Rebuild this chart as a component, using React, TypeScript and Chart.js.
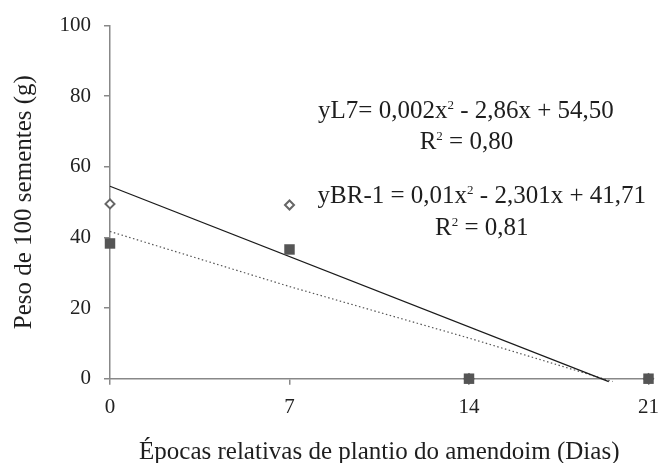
import React, { useEffect, useRef } from "react";
import { Chart, registerables } from "chart.js";

Chart.register(...registerables);

// Observed data
const daysL7 = [0, 7, 14, 21];
const weightL7 = [49.5, 49.2, 0, 0];
const daysBR1 = [0, 7, 14, 21];
const weightBR1 = [38.3, 36.6, 0, 0];

// Trend lines
const trendL7X = [0, 19.45];
const trendL7Y = [54.5, -0.8];
const trendBR1X = [0, 7, 14, 19.6];
const trendBR1Y = [41.7, 26.1, 11.5, -0.8];

// Tick values
const xTicks = [0, 7, 14, 21];
const yTicks = [0, 20, 40, 60, 80, 100];

// Equation annotations ("^" marks a superscript 2)
const eqTexts = [
  "yL7= 0,002x^ - 2,86x + 54,50",
  "R^ = 0,80",
  "yBR-1 = 0,01x^ - 2,301x + 41,71",
  "R^ = 0,81",
];
const eqX = [13.88, 13.9, 14.5, 14.5];
const eqY = [76.0, 67.3, 51.9, 43.0];

const xTitle = "Épocas relativas de plantio do amendoim (Dias)";
const yTitle = "Peso de 100 sementes (g)";

const FONT = '"Liberation Serif", "Times New Roman", serif';

const annotationPlugin = {
  id: "eqText",
  afterDatasetsDraw(chart: any) {
    const ctx = chart.ctx;
    const xs = chart.scales.x;
    const ys = chart.scales.y;
    const mainFont = `25px ${FONT}`;
    const supFont = `13px ${FONT}`;
    ctx.save();
    ctx.fillStyle = "#1e1e1e";
    ctx.textAlign = "left";
    ctx.textBaseline = "alphabetic";
    eqTexts.forEach((t, i) => {
      const parts = t.split("^");
      let total = 0;
      parts.forEach((p, j) => {
        ctx.font = mainFont;
        total += ctx.measureText(p).width;
        if (j < parts.length - 1) {
          ctx.font = supFont;
          total += ctx.measureText("2").width;
        }
      });
      const cx = xs.getPixelForValue(eqX[i]);
      const cy = ys.getPixelForValue(eqY[i]);
      const base = cy + 8;
      let x = cx - total / 2;
      parts.forEach((p, j) => {
        ctx.font = mainFont;
        ctx.fillText(p, x, base);
        x += ctx.measureText(p).width;
        if (j < parts.length - 1) {
          ctx.font = supFont;
          ctx.fillText("2", x, base - 9);
          x += ctx.measureText("2").width;
        }
      });
    });
    ctx.restore();
  },
};

export default function App() {
  const ref = useRef<HTMLCanvasElement | null>(null);
  useEffect(() => {
    if (!ref.current) return;
    const toPts = (xs: number[], ys: number[]) => xs.map((x, i) => ({ x, y: ys[i] }));
    const chart = new Chart(ref.current, {
      type: "scatter",
      data: {
        datasets: [
          {
            label: "BR-1",
            data: toPts(daysBR1, weightBR1),
            pointStyle: "rect",
            pointRadius: 7.4,
            backgroundColor: "#555555",
            borderColor: "#555555",
            borderWidth: 0,
            showLine: false,
            clip: false,
          } as any,
          {
            label: "L7",
            data: toPts(daysL7, weightL7),
            pointStyle: "rectRot",
            pointRadius: 4.5,
            backgroundColor: "#ffffff",
            borderColor: "#666666",
            borderWidth: 2,
            showLine: false,
            clip: false,
          } as any,
          {
            label: "Trend L7",
            data: toPts(trendL7X, trendL7Y),
            showLine: true,
            pointRadius: 0,
            borderColor: "#1a1a1a",
            borderWidth: 1.3,
            fill: false,
            clip: false,
          } as any,
          {
            label: "Trend BR-1",
            data: toPts(trendBR1X, trendBR1Y),
            showLine: true,
            pointRadius: 0,
            borderColor: "#555555",
            borderWidth: 1.2,
            borderDash: [1.5, 2.5],
            fill: false,
            clip: false,
          } as any,
        ],
      },
      options: {
        animation: false,
        responsive: true,
        maintainAspectRatio: false,
        devicePixelRatio: 1,
        layout: { padding: { top: 21, right: 12, left: 0, bottom: 0 } },
        plugins: {
          legend: { display: false },
          tooltip: { enabled: false },
        },
        scales: {
          x: {
            type: "linear",
            min: 0,
            max: 21,
            afterBuildTicks: (scale: any) => {
              scale.ticks = xTicks.map((v) => ({ value: v }));
            },
            afterFit: (scale: any) => {
              scale.height = 84.3;
            },
            ticks: {
              color: "#222222",
              font: { family: FONT, size: 21 },
              padding: 10,
              maxRotation: 0,
            },
            grid: {
              display: true,
              drawOnChartArea: false,
              drawTicks: true,
              tickLength: 6,
              color: "#888888",
              lineWidth: 1.5,
            },
            border: { display: true, color: "#888888", width: 1.5 },
            title: {
              display: true,
              text: xTitle,
              color: "#1e1e1e",
              font: { family: FONT, size: 25 },
              padding: { top: 0, bottom: -4 },
            },
          },
          y: {
            type: "linear",
            min: 0,
            max: 100,
            afterBuildTicks: (scale: any) => {
              scale.ticks = yTicks.map((v) => ({ value: v }));
            },
            afterFit: (scale: any) => {
              scale.width = 110;
            },
            ticks: {
              color: "#222222",
              font: { family: FONT, size: 21 },
              padding: 13,
            },
            grid: {
              display: true,
              drawOnChartArea: false,
              drawTicks: true,
              tickLength: 6,
              color: "#888888",
              lineWidth: 1.5,
            },
            border: { display: true, color: "#888888", width: 1.5 },
            title: {
              display: true,
              text: yTitle,
              color: "#1e1e1e",
              font: { family: FONT, size: 25 },
              padding: { top: 9, bottom: 0 },
            },
          },
        },
      } as any,
      plugins: [annotationPlugin],
    });
    return () => chart.destroy();
  }, []);

  return (
    <div
      style={{
        position: "fixed",
        left: 0,
        top: 0,
        width: 669,
        height: 463,
        background: "#ffffff",
      }}
    >
      <canvas ref={ref} />
    </div>
  );
}
